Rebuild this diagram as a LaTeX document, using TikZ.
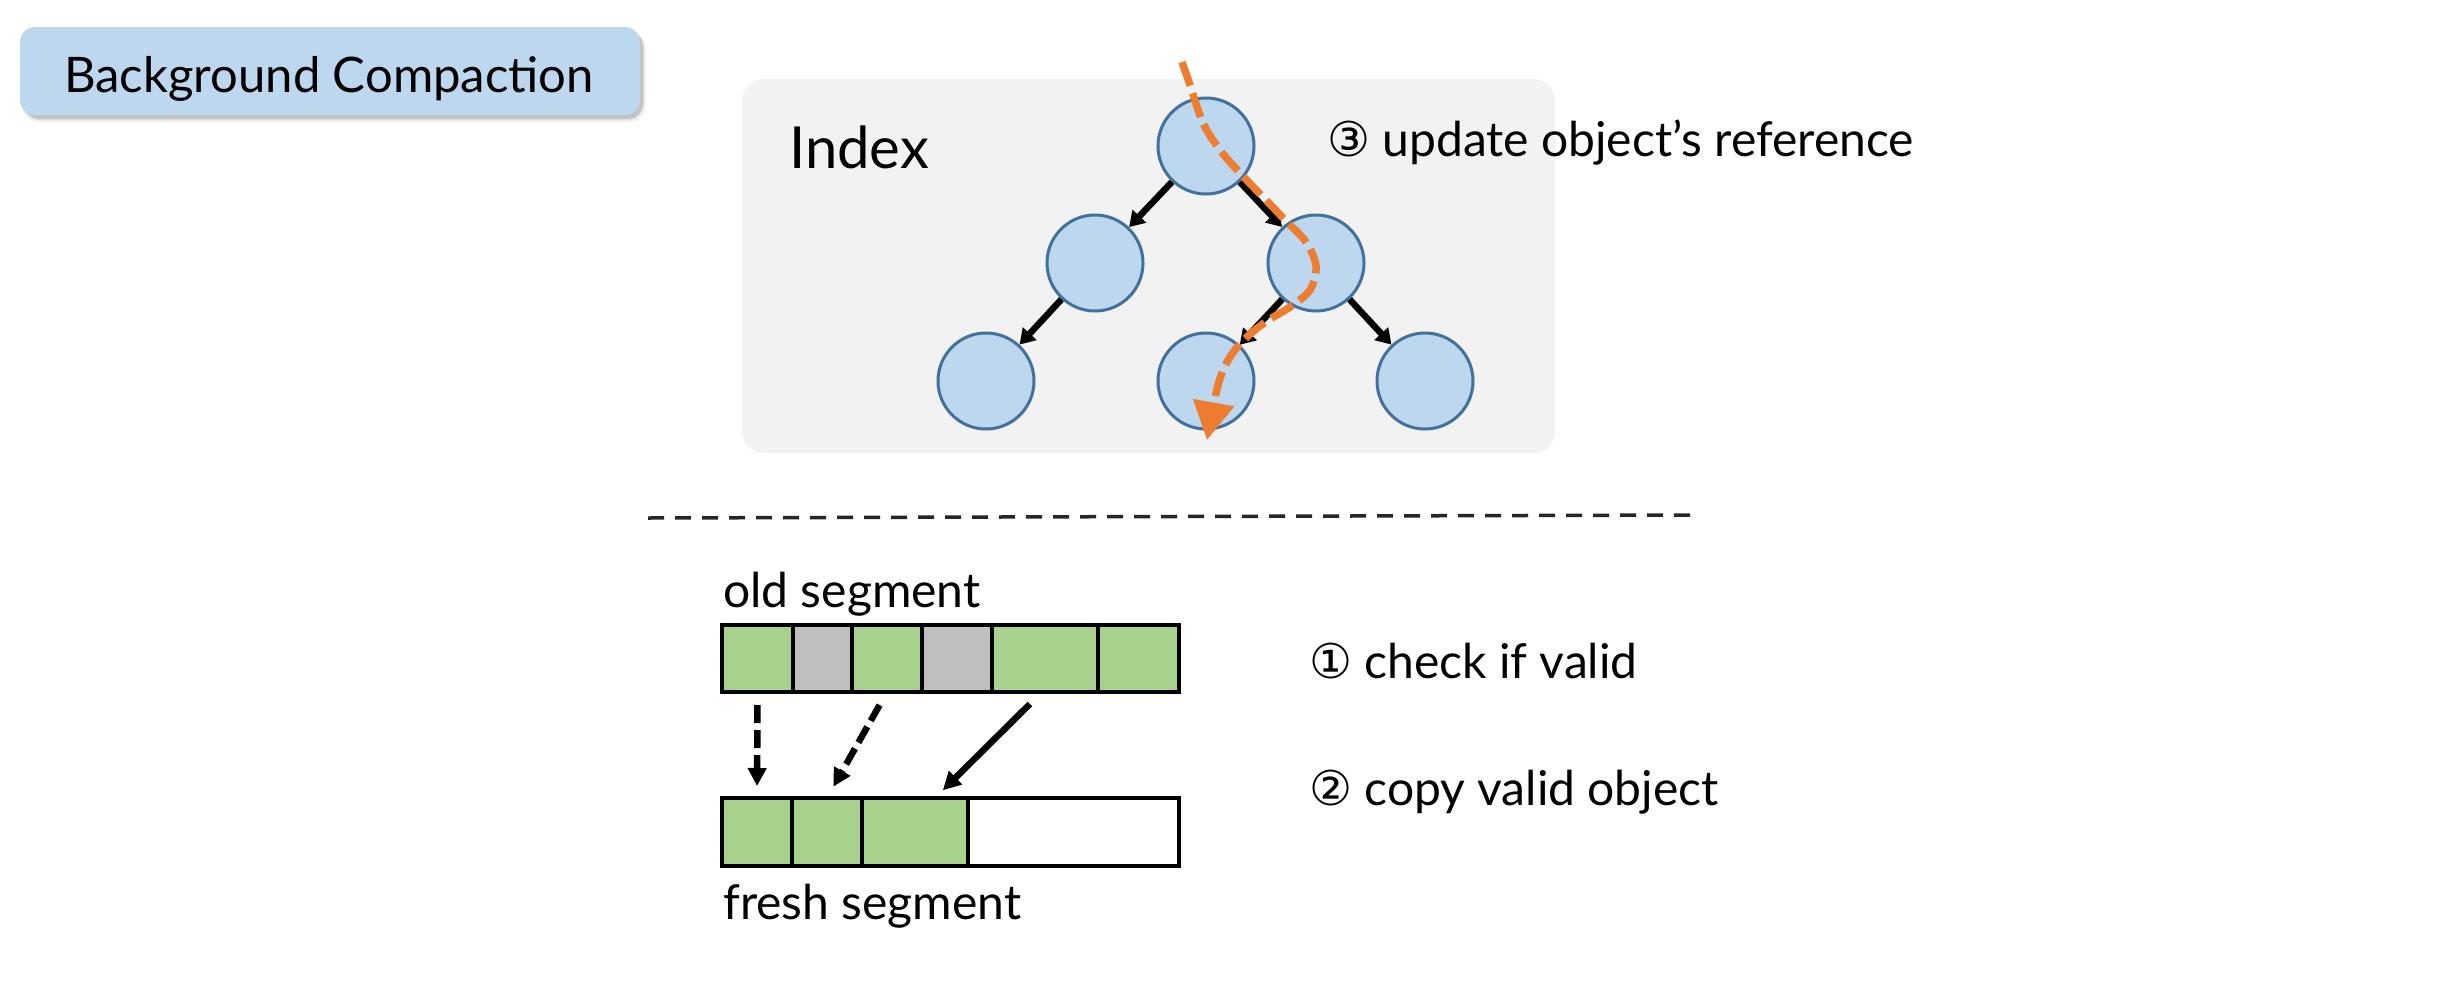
\documentclass[tikz,border=0pt]{standalone}
\usepackage{fontspec}
\setmainfont{Lato}
\newfontfamily\symfont{DejaVu Sans}
\usetikzlibrary{arrows.meta}
\definecolor{boxblue}{HTML}{BDD7EE}
\definecolor{circedge}{HTML}{41719C}
\definecolor{idxgray}{HTML}{F2F2F2}
\definecolor{cellgreen}{HTML}{A9D18E}
\definecolor{cellgray}{HTML}{BFBFBF}
\definecolor{orangepath}{HTML}{ED7D31}
\begin{document}
\begin{tikzpicture}[x=1pt,y=-1pt,
  treenode/.style={circle, fill=boxblue, draw=circedge, line width=3pt, minimum size=96pt, inner sep=0pt},
  treearrow/.style={-{Triangle[length=15pt,width=18pt]}, line width=6.5pt},
  cell/.style={draw=black, line width=4.5pt, minimum height=67pt, inner sep=0pt, outer sep=0pt},
  txtlabel/.style={anchor=base west, inner sep=0pt, font=\fontsize{48}{58}\selectfont},
  copyarrow/.style={-{Triangle[length=18pt,width=18pt]}, line width=6.5pt},
  shadowlayer/.style={fill=black, rounded corners=16pt},
]
\useasboundingbox (0,0) rectangle (2454,988);
\fill[white] (0,0) rectangle (2454,988);

% title box with soft shadow
\fill[shadowlayer, opacity=0.05] (22,32) rectangle (646,122);
\fill[shadowlayer, opacity=0.08] (23,31) rectangle (644,120);
\fill[shadowlayer, opacity=0.12] (24,31) rectangle (643,119);
\node[fill=boxblue, rounded corners=15pt, minimum width=620pt, minimum height=88pt, inner sep=0pt] (titlebox) at (330,71) {};
\node[anchor=base, inner sep=0pt, font=\fontsize{49}{59}\selectfont] (title) at (329,92) {Background Compaction};

% index area
\fill[idxgray, rounded corners=22pt] (742,79) rectangle (1555,453);
\node[anchor=base west, inner sep=0pt, font=\fontsize{58}{68}\selectfont] (index) at (789,168) {Index};

\node[treenode] (root) at (1206,146) {};
\node[treenode] (nl) at (1095,263) {};
\node[treenode] (nr) at (1316,263) {};
\node[treenode] (ll) at (986,381) {};
\node[treenode] (rm) at (1206,381) {};
\node[treenode] (rr) at (1425,381) {};

\draw[treearrow] (root) -- (nl);
\draw[treearrow] (root) -- (nr);
\draw[treearrow] (nl) -- (ll);
\draw[treearrow] (nr) -- (rm);
\draw[treearrow] (nr) -- (rr);

\coordinate (ostart) at (1182,62);
\coordinate (oend) at (1207,440);
\draw[orangepath, line width=7.5pt, dash pattern=on 25pt off 8pt, -{Triangle[length=38pt,width=40pt]}]
  plot[smooth, tension=0.55] coordinates {(ostart) (1190,85) (1203,123) (1220,150) (1240,173) (1263,197) (1287,222) (1306,242) (1316,266) (1310,290) (1290,307) (1267,321) (1247,337) (1230,357) (1218,385) (oend)};

\node[txtlabel] (step3) at (1327,156) {{\symfont ③}~update object’s reference};

% separator
\coordinate (sepl) at (648,518);
\coordinate (sepr) at (1699,515);
\draw[black!85, line width=3.5pt, dash pattern=on 16pt off 11pt] (sepl) -- (sepr);

% old segment
\node[txtlabel] (oldlbl) at (723,607) {old segment};
\node[cell, fill=cellgreen, minimum width=71pt] (o1) at (757.5,658.5) {};
\node[cell, fill=cellgray, minimum width=59pt] (o2) at (822.5,658.5) {};
\node[cell, fill=cellgreen, minimum width=70pt] (o3) at (887,658.5) {};
\node[cell, fill=cellgray, minimum width=70pt] (o4) at (957,658.5) {};
\node[cell, fill=cellgreen, minimum width=106pt] (o5) at (1045,658.5) {};
\node[cell, fill=cellgreen, minimum width=81pt] (o6) at (1138.5,658.5) {};

% fresh segment
\node[cell, fill=cellgreen, minimum width=70pt, minimum height=68pt] (f1) at (757,832) {};
\node[cell, fill=cellgreen, minimum width=70pt, minimum height=68pt] (f2) at (827,832) {};
\node[cell, fill=cellgreen, minimum width=106pt, minimum height=68pt] (f3) at (915,832) {};
\node[cell, fill=white, minimum width=211pt, minimum height=68pt] (f4) at (1073.5,832) {};
\node[txtlabel] (freshlbl) at (723,919) {fresh segment};

\draw[copyarrow, dash pattern=on 18pt off 7pt, shorten <=13pt, shorten >=12pt] (o1.south) -- (f1.north);
\draw[copyarrow, dash pattern=on 18pt off 7pt, shorten <=15pt, shorten >=13pt] (o3.south) -- (f2.north);
\draw[copyarrow, shorten <=17pt, shorten >=11pt] ([xshift=-3pt]o5.south) -- ([xshift=20pt]f3.north);

\node[txtlabel] (step1) at (1309,678) {{\symfont ①}~check if valid};
\node[txtlabel] (step2) at (1309,805) {{\symfont ②}~copy valid object};
\end{tikzpicture}
\end{document}
